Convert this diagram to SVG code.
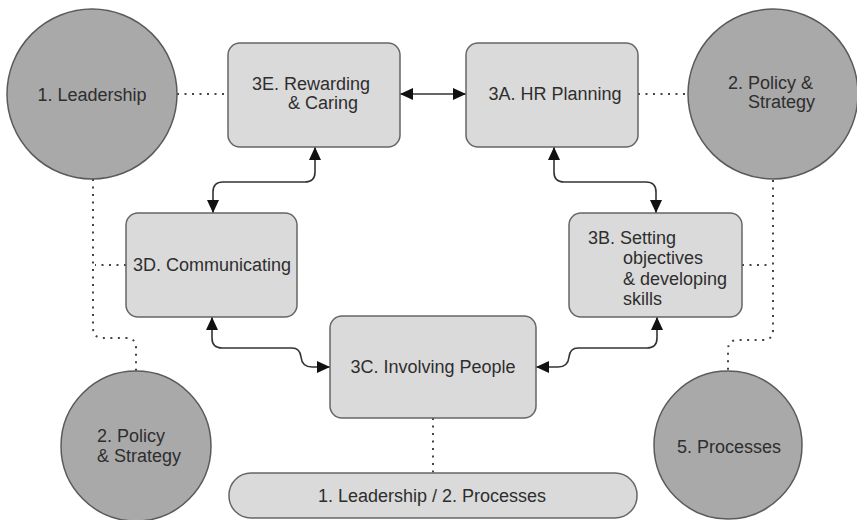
<svg xmlns="http://www.w3.org/2000/svg" width="857" height="520" viewBox="0 0 857 520">
  <defs>
    <marker id="arrow" viewBox="0 0 13 12" refX="13" refY="6" markerWidth="13" markerHeight="12" markerUnits="userSpaceOnUse" orient="auto-start-reverse">
      <path d="M0,0 L13,6 L0,12 Z" fill="#111"/>
    </marker>
    <style>
      .circle { fill: #a9a9a9; stroke: #5a5a5a; stroke-width: 1.5; }
      .box { fill: #dadada; stroke: #666; stroke-width: 1.5; }
      .label { font-family: "Liberation Sans", Arial, sans-serif; font-size: 18px; fill: #2e2e2e; }
      .mid { text-anchor: middle; }
      .link { fill: none; stroke: #333; stroke-width: 1.6; marker-start: url(#arrow); marker-end: url(#arrow); }
      .dots { fill: none; stroke: #444; stroke-width: 2; stroke-dasharray: 2 5.5; }
    </style>
  </defs>

  <rect width="857" height="520" fill="#ffffff"/>

  <!-- connectors -->
  <g id="connectors">
    <!-- dotted relations -->
    <path class="dots" d="M177,94 L228,94"/>
    <path class="dots" d="M638,94 L688,94"/>
    <path class="dots" d="M93,179 L93,328 Q93,338 103,338 L126,338 Q136,338 136,348 L136,371"/>
    <path class="dots" d="M126,265 L95,265"/>
    <path class="dots" d="M773,180 L773,330 Q773,340 763,340 L738,340 Q728,340 728,350 L728,371"/>
    <path class="dots" d="M742,265 L771,265"/>
    <path class="dots" d="M433,418 L433,473"/>

    <!-- two-way links between process boxes -->
    <path class="link" d="M400,94 L466,94"/>
    <path class="link" d="M315,147 L315,172 Q315,182 305,182 L223,182 Q213,182 213,192 L213,213"/>
    <path class="link" d="M554,147 L554,172 Q554,182 564,182 L646,182 Q656,182 656,192 L656,213"/>
    <path class="link" d="M212,317 L212,338 Q212,348 222,348 L292,348 Q300,348 301,357 Q302,367 312,367 L330,367"/>
    <path class="link" d="M657,317 L657,338 Q657,348 647,348 L578,348 Q570,348 569,357 Q568,367 558,367 L536,367"/>
  </g>

  <!-- enabler circles -->
  <g id="leadership">
    <circle class="circle" cx="92" cy="94" r="85"/>
    <text class="label mid" x="92" y="101">1. Leadership</text>
  </g>
  <g id="policy-strategy-top">
    <circle class="circle" cx="773" cy="94" r="85"/>
    <text class="label" x="728" y="89">2. Policy &amp;</text>
    <text class="label" x="748" y="108">Strategy</text>
  </g>
  <g id="policy-strategy-bottom">
    <circle class="circle" cx="136" cy="446" r="75"/>
    <text class="label" x="97" y="442">2. Policy</text>
    <text class="label" x="97" y="462">&amp; Strategy</text>
  </g>
  <g id="processes">
    <circle class="circle" cx="728" cy="445" r="74"/>
    <text class="label mid" x="729" y="453">5. Processes</text>
  </g>

  <!-- process boxes -->
  <g id="box-3e">
    <rect class="box" x="228" y="43" width="172" height="104" rx="12"/>
    <text class="label" x="252" y="90">3E. Rewarding</text>
    <text class="label" x="288" y="109">&amp; Caring</text>
  </g>
  <g id="box-3a">
    <rect class="box" x="466" y="43" width="172" height="104" rx="12"/>
    <text class="label mid" x="555" y="100">3A. HR Planning</text>
  </g>
  <g id="box-3d">
    <rect class="box" x="126" y="213" width="171" height="104" rx="12"/>
    <text class="label mid" x="212" y="271">3D. Communicating</text>
  </g>
  <g id="box-3b">
    <rect class="box" x="569" y="213" width="173" height="104" rx="12"/>
    <text class="label" x="588" y="244">3B. Setting</text>
    <text class="label" x="623" y="264">objectives</text>
    <text class="label" x="623" y="285">&amp; developing</text>
    <text class="label" x="623" y="305">skills</text>
  </g>
  <g id="box-3c">
    <rect class="box" x="330" y="316" width="206" height="102" rx="12"/>
    <text class="label mid" x="433" y="373">3C. Involving People</text>
  </g>
  <g id="base-bar">
    <rect class="box" x="229" y="473" width="408" height="45" rx="22"/>
    <text class="label mid" x="432" y="502">1. Leadership / 2. Processes</text>
  </g>
</svg>
